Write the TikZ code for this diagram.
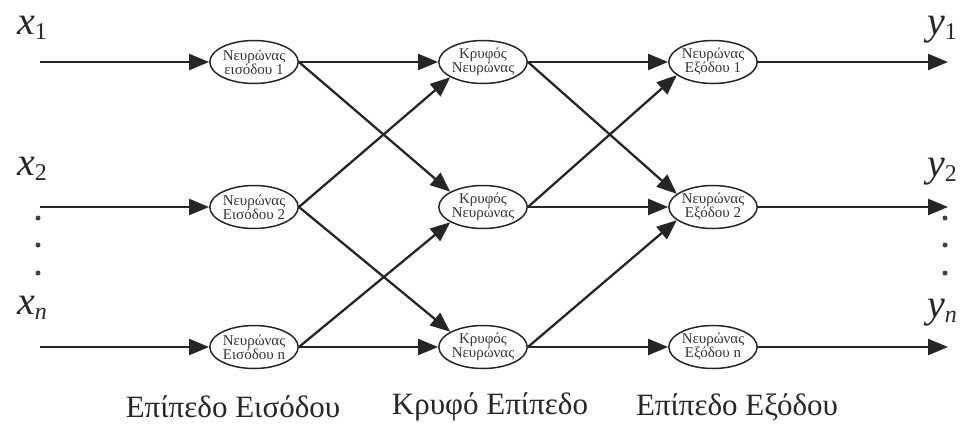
\documentclass[tikz,border=0pt]{standalone}
\usepackage{fontspec}
\setmainfont{Liberation Serif}
\usetikzlibrary{arrows.meta,shapes.geometric}
\begin{document}
\begin{tikzpicture}[x=1pt,y=-1pt,
  neuron/.style={draw=black!85, line width=1.5pt, ellipse, minimum width=86pt, minimum height=43pt,
    inner sep=0pt, align=center, font=\fontsize{15}{14}\selectfont, text=black!80},
  link/.style={draw=black!85, line width=2.3pt, -{Triangle[length=20pt,width=16pt]}},
  varlabel/.style={font=\fontsize{40}{40}\selectfont\itshape, text=black!85, inner sep=0pt},
  layerlabel/.style={font=\fontsize{31}{31}\selectfont, text=black!85, inner sep=0pt},
  dot/.style={circle, fill=black!75, inner sep=0pt, minimum size=5pt}]
\useasboundingbox (0,0) rectangle (965,424);

% input layer
\node[neuron] (in1) at (254,62)  {Νευρώνας\\εισόδου 1};
\node[neuron] (in2) at (254,207) {Νευρώνας\\Εισόδου 2};
\node[neuron] (in3) at (254,347) {Νευρώνας\\Εισόδου n};
% hidden layer
\node[neuron] (h1) at (483,62)  {Κρυφός\\Νευρώνας};
\node[neuron] (h2) at (483,207) {Κρυφός\\Νευρώνας};
\node[neuron] (h3) at (483,347) {Κρυφός\\Νευρώνας};
% output layer
\node[neuron] (o1) at (713,62)  {Νευρώνας\\Εξόδου 1};
\node[neuron] (o2) at (713,207) {Νευρώνας\\Εξόδου 2};
\node[neuron] (o3) at (713,347) {Νευρώνας\\Εξόδου n};

% free ends of the input and output lines
\coordinate (s1) at (40,62);
\coordinate (s2) at (40,207);
\coordinate (s3) at (40,347);
\coordinate (e1) at (948,62);
\coordinate (e2) at (948,207);
\coordinate (e3) at (948,347);

% variable labels
\node[varlabel] (x1) at (32,28)  {x\raisebox{-0.25ex}{\upshape\fontsize{24}{24}\selectfont 1}};
\node[varlabel] (x2) at (32,169) {x\raisebox{-0.25ex}{\upshape\fontsize{24}{24}\selectfont 2}};
\node[varlabel] (xn) at (32,308) {x\raisebox{-0.25ex}{\fontsize{24}{24}\selectfont n}};
\node[varlabel] (y1) at (942,30)  {y\raisebox{-0.25ex}{\upshape\fontsize{24}{24}\selectfont 1}};
\node[varlabel] (y2) at (942,172) {y\raisebox{-0.25ex}{\upshape\fontsize{24}{24}\selectfont 2}};
\node[varlabel] (yn) at (942,313) {y\raisebox{-0.25ex}{\fontsize{24}{24}\selectfont n}};

% ellipsis dots
\node[dot] (dl1) at (38,218) {};
\node[dot] (dl2) at (38,245) {};
\node[dot] (dl3) at (38,273) {};
\node[dot] (dr1) at (945,218) {};
\node[dot] (dr2) at (945,245) {};
\node[dot] (dr3) at (945,273) {};

% inputs
\draw[link] (s1) -- (in1.west);
\draw[link] (s2) -- (in2.west);
\draw[link] (s3) -- (in3.west);

% input -> hidden
\draw[link] (in1.east) -- (h1.west);
\draw[link] (in1.east) -- (h2.155);
\draw[link] (in2.east) -- (h1.205);
\draw[link] (in2.east) -- (h3.155);
\draw[link] (in3.east) -- (h2.205);
\draw[link] (in3.east) -- (h3.west);

% hidden -> output
\draw[link] (h1.east) -- (o1.west);
\draw[link] (h1.east) -- (o2.160);
\draw[link] (h2.east) -- (o1.200);
\draw[link] (h2.east) -- (o2.west);
\draw[link] (h3.east) -- (o2.200);
\draw[link] (h3.east) -- (o3.west);

% outputs
\draw[link] (o1.east) -- (e1);
\draw[link] (o2.east) -- (e2);
\draw[link] (o3.east) -- (e3);

% layer names
\node[layerlabel] (L1) at (233,407) {Επίπεδο Εισόδου};
\node[layerlabel] (L2) at (490,407) {Κρυφό Επίπεδο};
\node[layerlabel] (L3) at (737,407) {Επίπεδο Εξόδου};
\end{tikzpicture}
\end{document}
